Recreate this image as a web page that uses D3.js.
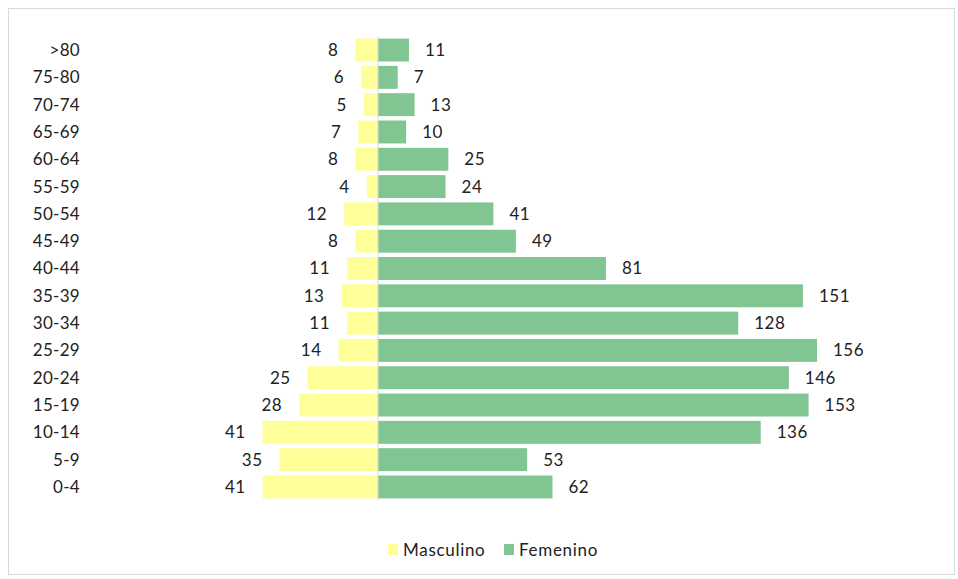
<!DOCTYPE html>
<html><head><meta charset="utf-8">
<script src="https://cdn.jsdelivr.net/npm/d3@7"></script>
<style>body{margin:0;background:#fff;}svg{display:block;font-family:Lato,"Noto Sans",sans-serif;}</style>
</head><body>
<svg id="c" width="958" height="579"></svg>
<script>
const categories = [">80","75-80","70-74","65-69","60-64","55-59","50-54","45-49","40-44","35-39","30-34","25-29","20-24","15-19","10-14","5-9","0-4"];
const masculino = [8,6,5,7,8,4,12,8,11,13,11,14,25,28,41,35,41];
const femenino = [11,7,13,10,25,24,41,49,81,151,128,156,146,153,136,53,62];
const seriesNames = ["Masculino","Femenino"];
const colors = {"Masculino":"#FFFF99","Femenino":"#80C592"};

const svg = d3.select("#c");
svg.append("rect").attr("x",8.5).attr("y",8.5).attr("width",946).attr("height",566)
  .attr("fill","#fff").attr("stroke","#d9d9d9").attr("stroke-width",1);

const cx = 378;
const x = d3.scaleLinear().domain([0,156]).range([0,439]);
const y = d3.scaleBand().domain(categories).range([36.4,500.6]).paddingInner(0.16).paddingOuter(0.08);

const g = svg.append("g");
categories.forEach((c,i)=>{
  const yy = y(c), h = y.bandwidth();
  g.append("rect").attr("x",cx - x(masculino[i])).attr("y",yy).attr("width",x(masculino[i])).attr("height",h).attr("fill",colors.Masculino);
  g.append("rect").attr("x",cx).attr("y",yy).attr("width",x(femenino[i])).attr("height",h).attr("fill",colors.Femenino);
  const my = yy + h/2;
  g.append("text").attr("x",cx - x(masculino[i]) - 17).attr("y",my).attr("dy","0.35em").attr("text-anchor","end")
    .attr("font-size",17).attr("letter-spacing",0.5).attr("fill","#222").text(masculino[i]);
  g.append("text").attr("x",cx + x(femenino[i]) + 16).attr("y",my).attr("dy","0.35em").attr("text-anchor","start")
    .attr("font-size",17).attr("letter-spacing",0.5).attr("fill","#222").text(femenino[i]);
  g.append("text").attr("x",80).attr("y",my).attr("dy","0.35em").attr("text-anchor","end")
    .attr("font-size",17).attr("letter-spacing",0.3).attr("fill","#222").text(c);
});
g.append("line").attr("x1",cx).attr("x2",cx).attr("y1",36).attr("y2",501).attr("stroke","#d9d9d9").attr("stroke-width",1);

// legend
const leg = svg.append("g");
const legItems = [{n:"Masculino",x:388},{n:"Femenino",x:504}];
legItems.forEach(d=>{
  leg.append("rect").attr("x",d.x).attr("y",544).attr("width",10).attr("height",11).attr("fill",colors[d.n]);
  leg.append("text").attr("x",d.x+15).attr("y",550).attr("dy","0.35em").attr("font-size",17).attr("letter-spacing",0.7).attr("fill","#222").text(d.n);
});
</script>
</body></html>
